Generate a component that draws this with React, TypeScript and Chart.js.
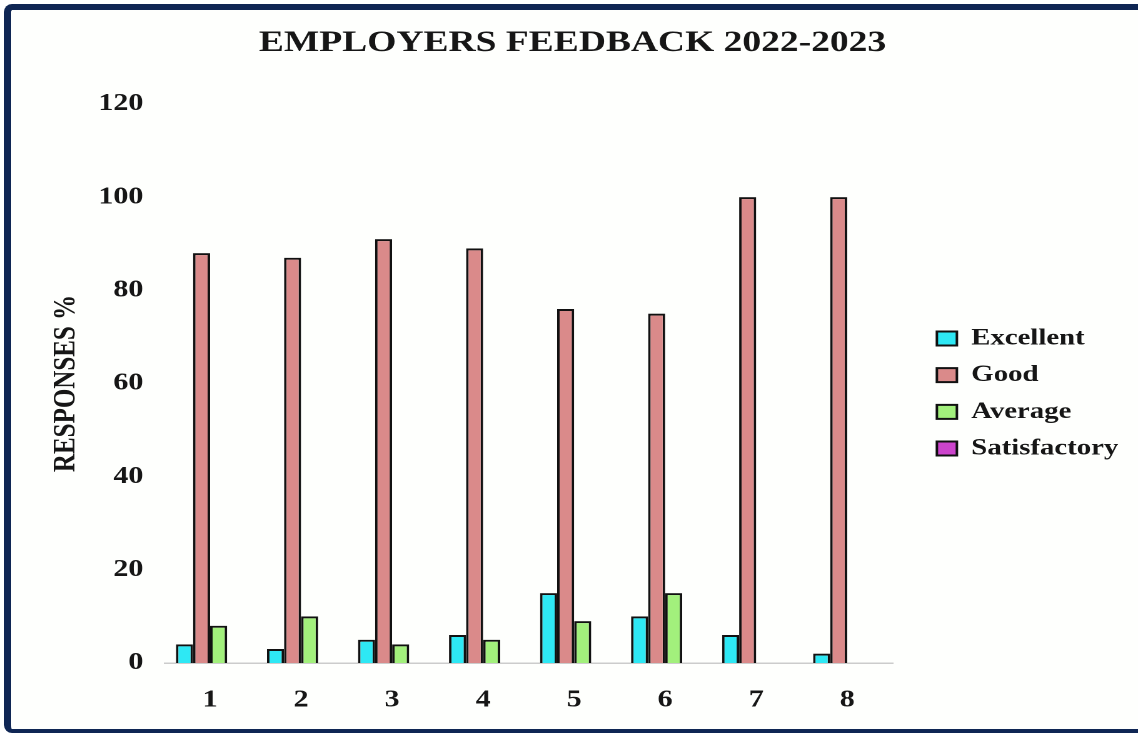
import React, { useEffect, useRef } from "react";
import { Chart, registerables } from "chart.js";

Chart.register(...registerables);

const categories = ["1", "2", "3", "4", "5", "6", "7", "8"];
const seriesNames = ["Excellent", "Good", "Average", "Satisfactory"];
const excellent = [4, 3, 5, 6, 15, 10, 6, 2];
const good = [88, 87, 91, 89, 76, 75, 100, 100];
const average = [8, 10, 4, 5, 9, 15, 0, 0];
const satisfactory = [0, 0, 0, 0, 0, 0, 0, 0];
const yTicks = [0, 20, 40, 60, 80, 100, 120];
const seriesColors = ["#2ee8f4", "#da8a8a", "#a2f07c", "#cc44cc"];
const titleText = "EMPLOYERS FEEDBACK 2022-2023";
const yTitle = "RESPONSES %";

const PAGE_W = 1138;
const PAGE_H = 733;
const CANVAS_W = 910;
const STRETCH = PAGE_W / CANVAS_W;
const FONT = "'Liberation Serif', 'Times New Roman', serif";
const TEXT = "#161616";

export default function App() {
  const ref = useRef<HTMLCanvasElement | null>(null);

  useEffect(() => {
    if (!ref.current) return;
    const values = [excellent, good, average, satisfactory];
    const chart = new Chart(ref.current, {
      type: "bar",
      data: {
        labels: categories,
        datasets: seriesNames.map((name, i) => ({
          label: name,
          data: values[i],
          backgroundColor: seriesColors[i],
          borderColor: "#111111",
          borderWidth: 2,
          borderSkipped: "bottom",
          categoryPercentage: 0.75,
          barPercentage: 1.0,
        })),
      },
      options: {
        responsive: false,
        animation: false,
        devicePixelRatio: 2,
        layout: { padding: { left: 11.4, top: 0, right: 5.8, bottom: 0 } },
        plugins: {
          title: {
            display: true,
            text: titleText,
            color: TEXT,
            font: { family: FONT, size: 30, weight: "bold" },
            padding: { top: 25, bottom: 43 },
          },
          legend: {
            position: "right",
            fullSize: false,
            align: "center",
            maxWidth: 400,
            title: { display: true, text: " ", font: { size: 10 }, padding: 4 },
            labels: {
              color: TEXT,
              font: { family: FONT, size: 23, weight: "bold" },
              boxWidth: 16,
              boxHeight: 14,
              padding: 13.7,
            },
          },
          tooltip: { enabled: false },
        },
        scales: {
          x: {
            grid: { display: false },
            border: { display: true, color: "#cccccc", width: 1.5 },
            ticks: {
              color: TEXT,
              font: { family: FONT, size: 24, weight: "bold" },
              padding: 15,
            },
            afterFit: (s: any) => {
              s.height = 70;
            },
          },
          y: {
            min: 0,
            max: 120,
            afterBuildTicks: (s: any) => {
              s.ticks = yTicks.map((v) => ({ value: v }));
            },
            grid: { display: false },
            border: { display: false },
            ticks: {
              color: TEXT,
              font: { family: FONT, size: 24, weight: "bold" },
              padding: 9,
            },
            title: {
              display: true,
              text: yTitle,
              color: TEXT,
              font: { family: FONT, size: 25, weight: "bold" },
              padding: { top: 26.8, bottom: 0 },
            },
            afterFit: (s: any) => {
              s.width = 120.2;
            },
          },
          y2: {
            position: "right",
            display: true,
            grid: { display: false },
            border: { display: false },
            ticks: { display: false },
            afterFit: (s: any) => {
              s.width = 21.6;
            },
          },
        },
      } as any,
    });
    return () => chart.destroy();
  }, []);

  return (
    <div
      style={{
        position: "fixed",
        left: 0,
        top: 0,
        width: PAGE_W,
        height: PAGE_H,
        overflow: "hidden",
        background: "#ffffff",
      }}
    >
      <div
        style={{
          position: "absolute",
          left: 4,
          top: 4,
          width: PAGE_W + 40,
          height: PAGE_H - 4,
          boxSizing: "border-box",
          borderTop: "6px solid #0f2654",
          borderLeft: "7px solid #0f2654",
          borderBottom: "4px solid #0f2654",
          borderRadius: 8,
          background: "#fefffd",
        }}
      />
      <div
        style={{
          position: "absolute",
          left: 0,
          top: 0,
          width: CANVAS_W,
          height: PAGE_H,
          transform: `scaleX(${STRETCH})`,
          transformOrigin: "0 0",
        }}
      >
        <canvas ref={ref} width={CANVAS_W} height={PAGE_H} style={{ width: CANVAS_W, height: PAGE_H }} />
      </div>
    </div>
  );
}
